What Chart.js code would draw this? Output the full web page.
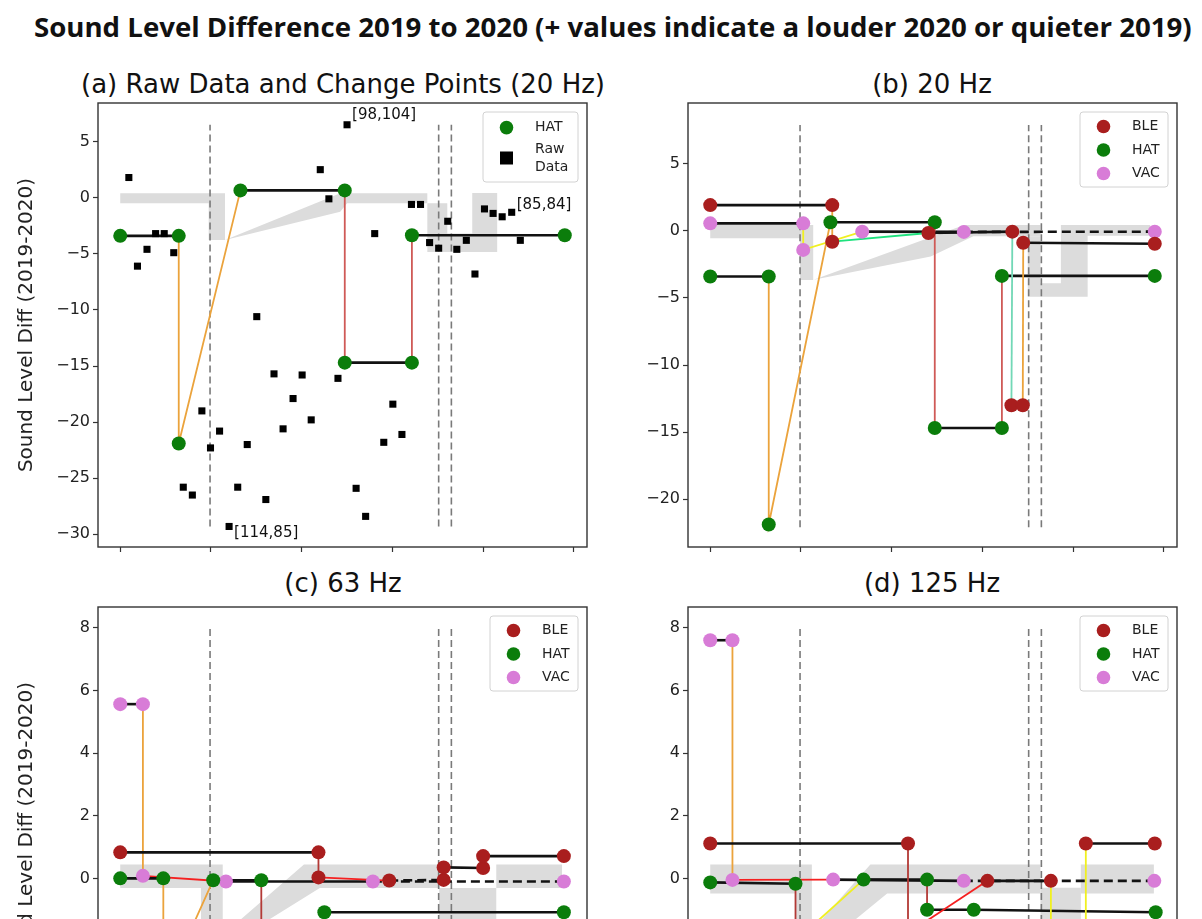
<!DOCTYPE html>
<html>
<head>
<meta charset="utf-8">
<script src="https://cdn.jsdelivr.net/npm/chart.js@4.4.0/dist/chart.umd.min.js"></script>
<style>
  body { margin: 0; width: 1202px; height: 919px; overflow: hidden; background: #fff; position: relative; font-family: 'DejaVu Sans', sans-serif; }
  canvas { position: absolute; }
  .ptitle { position: absolute; width: 800px; text-align: center; font-size: 26px; line-height: 30px; color: #111; white-space: nowrap; }
  #suptitle { position: absolute; left: 34px; top: 12px; font: bold 26px 'Open Sans', sans-serif; line-height: 30px; white-space: nowrap; transform-origin: 0 0; color: #111; }
</style>
</head>
<body>
<div id="suptitle">Sound Level Difference 2019 to 2020 (+ values indicate a louder 2020 or quieter 2019)</div>
<div class="ptitle" style="left:-57px; top:69px">(a) Raw Data and Change Points (20 Hz)</div>
<div class="ptitle" style="left:532px; top:69px">(b) 20 Hz</div>
<div class="ptitle" style="left:-57px; top:568px">(c) 63 Hz</div>
<div class="ptitle" style="left:532px; top:568px">(d) 125 Hz</div>
<canvas id="chartA" width="600" height="470" style="left:0; top:90px"></canvas>
<canvas id="chartB" width="602" height="470" style="left:600px; top:90px"></canvas>
<canvas id="chartC" width="600" height="470" style="left:0; top:594px"></canvas>
<canvas id="chartD" width="602" height="470" style="left:600px; top:594px"></canvas>
<script>
//AXES
const xTicks = [0, 20, 40, 60, 80, 100];
const yTicksA = [-30, -25, -20, -15, -10, -5, 0, 5];
const yTicksB = [-20, -15, -10, -5, 0, 5];
const yTicksCD = [-4, -2, 0, 2, 4, 6, 8];
const changeX = [19.8, 70.2, 73.0]; // dashed vertical lines

//RAW DATA (20 Hz)
const rawX = [1.9, 3.8, 5.9, 7.8, 9.7, 11.8, 13.9, 15.9, 18.0, 19.9, 21.9, 24.0, 25.9, 28.0, 30.1,
  32.1, 33.9, 35.9, 38.1, 40.1, 42.1, 44.1, 46.0, 48.0, 50.0, 52.0, 54.1, 56.1, 58.1, 60.1,
  62.1, 64.2, 66.2, 68.2, 70.2, 72.2, 74.2, 76.3, 78.2, 80.3, 82.2, 84.2, 86.3, 88.2];
const rawY = [1.8, -6.1, -4.6, -3.2, -3.2, -4.9, -25.8, -26.5, -19.0, -22.3, -20.8, -29.3, -25.8, -22.0, -10.6,
  -26.9, -15.7, -20.6, -17.9, -15.8, -19.8, 2.5, -0.1, -16.1, 6.5, -25.9, -28.4, -3.2, -21.8, -18.4,
  -21.1, -0.6, -0.6, -4.0, -4.5, -2.1, -4.6, -3.8, -6.8, -1.0, -1.4, -1.7, -1.3, -3.8];
const noteIdx = [24, 11, 42];
const noteText = ["[98,104]", "[114,85]", "[85,84]"];

//CHANGE POINTS - segment codes: k flat, kd open end, o/r/d/R/y/g/t change colours
const hat20X = [0, 12.9, 12.9, 26.5, 49.5, 49.5, 64.3, 64.3, 98];
const hat20Y = [-3.4, -3.4, -21.9, 0.65, 0.65, -14.7, -14.7, -3.35, -3.35];
const hat20Seg = ["k", "o", "o", "k", "r", "k", "r", "k"];

const ble20X = [0, 26.9, 26.9, 48.1, 66.6, 66.4, 68.9, 69.0, 98];
const ble20Y = [1.93, 1.93, -0.8, -0.15, -0.05, -13.0, -13.0, -0.88, -0.95];
const ble20Seg = ["k", "o", "g", "k", "t", "k", "o", "k"];

const vac20X = [0, 20.5, 20.5, 33.5, 55.9, 98];
const vac20Y = [0.57, 0.57, -1.41, -0.05, -0.07, -0.05];
const vac20Seg = ["k", "y", "y", "k", "kd"];

const ble63X = [0, 43.7, 43.7, 59.3, 71.3, 71.3, 80, 80, 97.8];
const ble63Y = [0.83, 0.83, 0.03, -0.07, -0.05, 0.35, 0.33, 0.71, 0.71];
const ble63Seg = ["k", "d", "R", "kd", "d", "k", "d", "k"];

const hat63X = [0, 9.5, 9.5, 20.5, 31.1, 31.1, 45, 45, 97.8];
const hat63Y = [0, 0, -3.6, -0.06, -0.06, -4.2, -4.2, -1.08, -1.08];
const hat63Seg = ["k", "o", "o", "k", "d", "k", "d", "k"];

const vac63X = [0, 5.0, 5.0, 23.3, 55.7, 97.8];
const vac63Y = [5.56, 5.56, 0.08, -0.1, -0.1, -0.1];
const vac63Seg = ["k", "o", "R", "k", "kd"];

const ble125X = [0, 43.6, 43.6, 61.1, 75.1, 75.1, 82.8, 82.8, 98];
const ble125Y = [1.11, 1.11, -1.75, -0.08, -0.08, -3.0, -3.0, 1.11, 1.11];
const ble125Seg = ["k", "d", "R", "k", "y", "k", "y", "k"];

const hat125X = [0, 18.8, 18.8, 33.8, 47.8, 47.8, 58.1, 98.2];
const hat125Y = [-0.13, -0.17, -2.0, -0.04, -0.04, -1.0, -1.0, -1.08];
const hat125Seg = ["k", "d", "y", "k", "d", "k", "k"];

const vac125X = [0, 4.9, 4.9, 27.1, 55.9, 97.9];
const vac125Y = [7.6, 7.6, -0.05, -0.04, -0.08, -0.08];
const vac125Seg = ["k", "o", "R", "k", "kd"];

//GREY BACKGROUND SHAPES (data coordinates)
const shadeA = [
  [[0, 0.39], [23.1, 0.39], [23.1, -3.77], [19.5, -3.77], [19.5, -0.5], [0, -0.5]],
  [[23.1, -3.77], [48.5, 0.39], [67.7, 0.39], [67.7, -0.5], [50, -0.5], [48.5, -1.25]],
  [[67.7, -0.5], [72.1, -0.5], [72.1, -3.2], [77.6, -3.2], [77.6, 0.42], [83.1, 0.42], [83.1, -4.84], [67.7, -4.84]],
];
const shadeB = [
  [[0, 0.45], [22.7, 0.45], [22.7, -3.66], [19.8, -3.66], [19.8, -0.55], [0, -0.55]],
  [[22.8, -3.64], [56, 0.45], [72.8, 0.45], [72.8, -0.4], [58, -0.4], [48.6, -1.9]],
  [[70, -0.4], [72.8, -0.4], [72.8, -3.9], [77.3, -3.9], [77.3, 0.45], [97, 0.45], [97, -0.35], [83.2, -0.35], [83.2, -4.9], [70, -4.9]],
];
const shadeC = [
  [[0, 0.44], [22.6, 0.44], [22.6, -4], [17.8, -4], [17.8, -0.31], [0, -0.31]],
  [[17.1, -2.5], [40.5, 0.44], [70.3, 0.44], [70.3, -0.31], [44, -0.31], [32.3, -1.36], [19.6, -2.5]],
  [[70.3, -0.31], [82.9, -0.31], [82.9, -4], [70.3, -4]],
  [[82.9, 0.44], [97.4, 0.44], [97.4, -0.31], [82.9, -0.31]],
];
const shadeD = [
  [[0, 0.44], [22.4, 0.44], [22.4, -4], [18.8, -4], [18.8, -0.48], [0, -0.48]],
  [[17.3, -2.5], [35.3, 0.44], [72.8, 0.44], [72.8, -0.48], [39, -0.48], [31.6, -1.36], [22, -2.5]],
  [[72.8, -0.3], [81.7, -0.3], [81.7, -4], [72.8, -4]],
  [[81.7, 0.44], [97.8, 0.44], [97.8, -0.48], [81.7, -0.48]],
];

//STYLES
const colBLE = "#a91e1e";
const colHAT = "#0b7d0b";
const colVAC = "#d87cd7";
const segStyle = {
  k: { color: "#121212", width: 2.6, dash: [] },
  kd: { color: "#121212", width: 2.6, dash: [9, 5] },
  o: { color: "#eba33c", width: 1.8, dash: [] },
  r: { color: "#cf5a57", width: 1.8, dash: [] },
  d: { color: "#b33a36", width: 1.8, dash: [] },
  R: { color: "#f52020", width: 1.8, dash: [] },
  y: { color: "#f0f020", width: 1.8, dash: [] },
  g: { color: "#1fe27e", width: 1.8, dash: [] },
  t: { color: "#72d8b6", width: 1.8, dash: [] },
};

Chart.defaults.font.family = "'DejaVu Sans', sans-serif";

function fmt(v) {
  return v < 0 ? "\u2212" + Math.abs(v) : String(v);
}

function lineSet(xs, ys, segs) {
  return {
    data: xs.map((x, i) => ({ x: x, y: ys[i] })),
    showLine: true,
    pointRadius: 0,
    tension: 0,
    order: 1,
    borderColor: "#121212",
    borderWidth: 2.6,
    segment: {
      borderColor: (c) => segStyle[segs[c.p0DataIndex]].color,
      borderWidth: (c) => segStyle[segs[c.p0DataIndex]].width,
      borderDash: (c) => segStyle[segs[c.p0DataIndex]].dash,
    },
  };
}

function dotSet(xs, ys, color, style, r) {
  return {
    data: xs.map((x, i) => ({ x: x, y: ys[i] })),
    showLine: false,
    pointRadius: r,
    pointStyle: style,
    pointBackgroundColor: color,
    pointBorderWidth: 0,
    order: 0,
  };
}

function shadeSets(polys) {
  return polys.map((p) => ({
    data: p.map((v) => ({ x: v[0], y: v[1] })),
    fill: "shape",
    backgroundColor: "#dcdcdc",
    borderColor: "rgba(0,0,0,0)",
    borderWidth: 0,
    pointRadius: 0,
    tension: 0,
    order: 3,
  }));
}

function vlineSets(lo, hi) {
  return changeX.map((x) => ({
    data: [{ x: x, y: lo }, { x: x, y: hi }],
    borderColor: "#7a7a7a",
    borderWidth: 1.6,
    borderDash: [7, 4],
    pointRadius: 0,
    order: 2,
  }));
}

//plot frame (all four spines)
const frame = {
  id: "frame",
  afterDatasetsDraw(chart) {
    const { ctx, chartArea: a } = chart;
    ctx.save();
    ctx.strokeStyle = "#333";
    ctx.lineWidth = 1.4;
    ctx.strokeRect(a.left, a.top, a.right - a.left, a.bottom - a.top);
    ctx.restore();
  },
};

//legend drawn inside the axes, top right
const innerLegend = {
  id: "innerLegend",
  afterDraw(chart, args, opts) {
    if (!opts.items) return;
    const { ctx, chartArea: a } = chart;
    const x0 = a.right - 9 - opts.width;
    const y0 = a.top + 9;
    ctx.save();
    ctx.beginPath();
    ctx.roundRect(x0, y0, opts.width, opts.height, 3);
    ctx.fillStyle = "rgba(255,255,255,0.85)";
    ctx.fill();
    ctx.strokeStyle = "#d2d2d2";
    ctx.lineWidth = 1;
    ctx.stroke();
    ctx.font = "14px 'DejaVu Sans'";
    ctx.textBaseline = "middle";
    opts.items.forEach((it, i) => {
      const y = y0 + opts.rows[i];
      ctx.fillStyle = it.color;
      if (it.shape === "square") {
        ctx.fillRect(x0 + 23.5 - 6.5, y - 6.5, 13, 13);
      } else {
        ctx.beginPath();
        ctx.arc(x0 + 23.5, y, 6.8, 0, Math.PI * 2);
        ctx.fill();
      }
      ctx.fillStyle = "#222";
      const n = it.label.length;
      it.label.forEach((t, j) => {
        ctx.fillText(t, x0 + 52, y + (j - (n - 1) / 2) * 18);
      });
    });
    ctx.restore();
  },
};

//bracket labels next to raw data points
const notes = {
  id: "notes",
  afterDatasetsDraw(chart, args, opts) {
    if (!opts.idx) return;
    const { ctx, scales } = chart;
    ctx.save();
    ctx.font = "15px 'DejaVu Sans'";
    ctx.fillStyle = "#111";
    ctx.textBaseline = "middle";
    opts.idx.forEach((k, i) => {
      const px = scales.x.getPixelForValue(rawX[k]);
      const py = scales.y.getPixelForValue(rawY[k]);
      ctx.fillText(noteText[i], px + 5, py + opts.dy[i]);
    });
    ctx.restore();
  },
};

function makePanel(id, o) {
  const tickGrid = { drawOnChartArea: false, drawTicks: true, tickLength: 5, tickColor: "#333", tickWidth: 1.2 };
  return new Chart(document.getElementById(id), {
    type: "line",
    data: { datasets: o.datasets },
    options: {
      responsive: false,
      animation: false,
      devicePixelRatio: 1,
      events: [],
      layout: { autoPadding: false, padding: { top: 13, right: o.padR, bottom: 3, left: 0 } },
      scales: {
        x: {
          type: "linear",
          min: -4.9,
          max: 102.9,
          ticks: { display: false },
          grid: tickGrid,
          border: { display: false },
          afterBuildTicks: (s) => { s.ticks = xTicks.map((v) => ({ value: v })); },
          afterFit: (s) => { s.height = 10; },
        },
        y: {
          type: "linear",
          min: o.yMin,
          max: o.yMax,
          ticks: { color: "#222", font: { size: 16 }, padding: 3, callback: (v) => fmt(v) },
          grid: tickGrid,
          border: { display: false },
          title: {
            display: !!o.yTitle,
            text: "Sound Level Diff (2019-2020)",
            color: "#222",
            font: { size: 20 },
            padding: { top: 15, bottom: 0 },
          },
          afterBuildTicks: (s) => { s.ticks = o.yTicks.map((v) => ({ value: v })); },
          afterFit: (s) => { s.width = o.yW; },
        },
      },
      plugins: {
        legend: { display: false },
        tooltip: { enabled: false },
        innerLegend: o.legend,
        notes: o.notes || {},
      },
    },
    plugins: [frame, innerLegend, notes],
  });
}

const legend3 = {
  width: 88,
  height: 75,
  rows: [14.5, 38, 61.5],
  items: [
    { label: ["BLE"], color: colBLE, shape: "circle" },
    { label: ["HAT"], color: colHAT, shape: "circle" },
    { label: ["VAC"], color: colVAC, shape: "circle" },
  ],
};

//(a) raw data + HAT change points
makePanel("chartA", {
  yMin: -31.13, yMax: 8.44, yTicks: yTicksA, yTitle: true, yW: 98, padR: 13,
  datasets: [
    ...shadeSets(shadeA),
    ...vlineSets(-29.3, 6.5),
    lineSet(hat20X, hat20Y, hat20Seg),
    dotSet(rawX, rawY, "#000", "rect", 5),
    dotSet(hat20X, hat20Y, colHAT, "circle", 7),
  ],
  legend: {
    width: 95,
    height: 70,
    rows: [15.6, 46],
    items: [
      { label: ["HAT"], color: colHAT, shape: "circle" },
      { label: ["Raw", "Data"], color: "#000", shape: "square" },
    ],
  },
  notes: { idx: noteIdx, dy: [-10, 7, -7] },
});

//(b) 20 Hz
makePanel("chartB", {
  yMin: -23.58, yMax: 9.55, yTicks: yTicksB, yTitle: false, yW: 88, padR: 25,
  datasets: [
    ...shadeSets(shadeB),
    ...vlineSets(-22.1, 7.9),
    lineSet(ble20X, ble20Y, ble20Seg),
    lineSet(hat20X, hat20Y, hat20Seg),
    lineSet(vac20X, vac20Y, vac20Seg),
    dotSet(ble20X, ble20Y, colBLE, "circle", 7),
    dotSet(hat20X, hat20Y, colHAT, "circle", 7),
    dotSet(vac20X, vac20Y, colVAC, "circle", 7),
  ],
  legend: legend3,
});

//(c) 63 Hz
makePanel("chartC", {
  yMin: -5.51, yMax: 8.66, yTicks: yTicksCD, yTitle: true, yW: 98, padR: 13,
  datasets: [
    ...shadeSets(shadeC),
    ...vlineSets(-4.9, 8.0),
    lineSet(ble63X, ble63Y, ble63Seg),
    lineSet(hat63X, hat63Y, hat63Seg),
    lineSet(vac63X, vac63Y, vac63Seg),
    dotSet(ble63X, ble63Y, colBLE, "circle", 7),
    dotSet(hat63X, hat63Y, colHAT, "circle", 7),
    dotSet(vac63X, vac63Y, colVAC, "circle", 7),
  ],
  legend: legend3,
});

//(d) 125 Hz
makePanel("chartD", {
  yMin: -5.51, yMax: 8.66, yTicks: yTicksCD, yTitle: false, yW: 88, padR: 25,
  datasets: [
    ...shadeSets(shadeD),
    ...vlineSets(-4.9, 8.0),
    lineSet(ble125X, ble125Y, ble125Seg),
    lineSet(hat125X, hat125Y, hat125Seg),
    lineSet(vac125X, vac125Y, vac125Seg),
    dotSet(ble125X, ble125Y, colBLE, "circle", 7),
    dotSet(hat125X, hat125Y, colHAT, "circle", 7),
    dotSet(vac125X, vac125Y, colVAC, "circle", 7),
  ],
  legend: legend3,
});

//squeeze the bold heading to the reference width
const sup = document.getElementById("suptitle");
sup.style.transform = "scaleX(" + (1158 / sup.offsetWidth) + ")";
</script>
</body>
</html>
